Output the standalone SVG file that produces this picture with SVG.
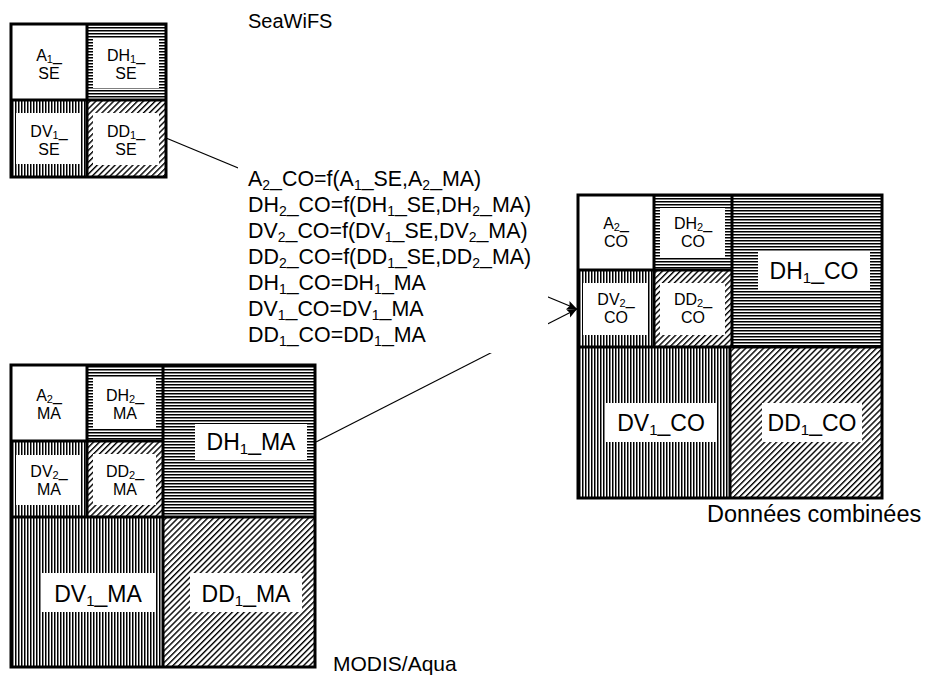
<svg xmlns="http://www.w3.org/2000/svg" width="929" height="677" viewBox="0 0 929 677">
<style>
.t{font-family:"Liberation Sans",Arial,sans-serif;fill:#000}
.sm{font-size:16px;text-anchor:middle}
.big{font-size:23px;text-anchor:middle}
.eq{font-size:21.4px}
.bd{fill:none;stroke:#000;stroke-width:3}
.dv{stroke:#000;stroke-width:3}
.wh{fill:#fff}
.cn{stroke:#000;stroke-width:1.2;fill:none}
</style>
<defs>
<pattern id="ph" patternUnits="userSpaceOnUse" width="6" height="3"><rect x="0" y="0" width="6" height="1.5" fill="#000"/></pattern>
<pattern id="pv" patternUnits="userSpaceOnUse" width="3" height="6"><rect x="0" y="0" width="1.5" height="6" fill="#000"/></pattern>
<pattern id="pd" patternUnits="userSpaceOnUse" width="4.2" height="10" patternTransform="rotate(45)"><rect x="0" y="0" width="1.4" height="10" fill="#000"/></pattern>
<marker id="ar" markerWidth="10" markerHeight="10" refX="10" refY="5" orient="auto" markerUnits="userSpaceOnUse"><path d="M0,0.5 L10,5 L0,9.5 L2,5 Z" fill="#000"/></marker>
</defs>
<rect width="929" height="677" fill="#fff"/>

<g id="connectors">
<line class="cn" x1="166" y1="138" x2="577" y2="309" marker-end="url(#ar)"/>
<line class="cn" x1="316" y1="442" x2="577" y2="309" marker-end="url(#ar)"/>
</g>

<g id="equations">
<rect x="238" y="158" width="310" height="195" fill="#fff"/>
<text class="t eq" x="248" y="186">A<tspan font-size="14" dy="4">2</tspan><tspan dy="-4">_CO=f(A</tspan><tspan font-size="14" dy="4">1</tspan><tspan dy="-4">_SE,A</tspan><tspan font-size="14" dy="4">2</tspan><tspan dy="-4">_MA)</tspan></text>
<text class="t eq" x="248" y="212">DH<tspan font-size="14" dy="4">2</tspan><tspan dy="-4">_CO=f(DH</tspan><tspan font-size="14" dy="4">1</tspan><tspan dy="-4">_SE,DH</tspan><tspan font-size="14" dy="4">2</tspan><tspan dy="-4">_MA)</tspan></text>
<text class="t eq" x="248" y="238">DV<tspan font-size="14" dy="4">2</tspan><tspan dy="-4">_CO=f(DV</tspan><tspan font-size="14" dy="4">1</tspan><tspan dy="-4">_SE,DV</tspan><tspan font-size="14" dy="4">2</tspan><tspan dy="-4">_MA)</tspan></text>
<text class="t eq" x="248" y="264">DD<tspan font-size="14" dy="4">2</tspan><tspan dy="-4">_CO=f(DD</tspan><tspan font-size="14" dy="4">1</tspan><tspan dy="-4">_SE,DD</tspan><tspan font-size="14" dy="4">2</tspan><tspan dy="-4">_MA)</tspan></text>
<text class="t eq" x="248" y="290">DH<tspan font-size="14" dy="4">1</tspan><tspan dy="-4">_CO=DH</tspan><tspan font-size="14" dy="4">1</tspan><tspan dy="-4">_MA</tspan></text>
<text class="t eq" x="248" y="316">DV<tspan font-size="14" dy="4">1</tspan><tspan dy="-4">_CO=DV</tspan><tspan font-size="14" dy="4">1</tspan><tspan dy="-4">_MA</tspan></text>
<text class="t eq" x="248" y="342">DD<tspan font-size="14" dy="4">1</tspan><tspan dy="-4">_CO=DD</tspan><tspan font-size="14" dy="4">1</tspan><tspan dy="-4">_MA</tspan></text>
</g>

<g id="seawifs">
<text class="t" font-size="20" x="248" y="28">SeaWiFS</text>
<rect x="11" y="24" width="76" height="76" class="wh"/>
<rect x="87" y="24" width="79" height="76" fill="url(#ph)"/>
<rect x="93" y="38" width="66" height="50" class="wh"/>
<rect x="11" y="100" width="76" height="77" fill="url(#pv)"/>
<rect x="16" y="113" width="64" height="51" class="wh"/>
<rect x="87" y="100" width="79" height="77" fill="url(#pd)"/>
<rect x="93" y="113" width="66" height="52" class="wh"/>
<rect x="11" y="24" width="155" height="153" class="bd"/>
<line class="dv" x1="87" y1="24" x2="87" y2="177"/>
<line class="dv" x1="11" y1="100" x2="166" y2="100"/>
<text class="t sm" x="49" y="61">A<tspan font-size="11" dy="2">1</tspan><tspan dy="-2">_</tspan></text>
<text class="t sm" x="49" y="79">SE</text>
<text class="t sm" x="126" y="61">DH<tspan font-size="11" dy="2">1</tspan><tspan dy="-2">_</tspan></text>
<text class="t sm" x="126" y="79">SE</text>
<text class="t sm" x="49" y="137">DV<tspan font-size="11" dy="2">1</tspan><tspan dy="-2">_</tspan></text>
<text class="t sm" x="49" y="155">SE</text>
<text class="t sm" x="126" y="137">DD<tspan font-size="11" dy="2">1</tspan><tspan dy="-2">_</tspan></text>
<text class="t sm" x="126" y="155">SE</text>
</g>

<g id="modis">
<text class="t" font-size="21" x="333" y="671">MODIS/Aqua</text>
<rect x="11" y="365" width="76" height="76" class="wh"/>
<rect x="87" y="365" width="76" height="76" fill="url(#ph)"/>
<rect x="93" y="378" width="63" height="50" class="wh"/>
<rect x="11" y="441" width="76" height="76" fill="url(#pv)"/>
<rect x="16" y="455" width="64" height="50" class="wh"/>
<rect x="87" y="441" width="76" height="76" fill="url(#pd)"/>
<rect x="93" y="454" width="63" height="51" class="wh"/>
<rect x="163" y="365" width="152" height="152" fill="url(#ph)"/>
<rect x="11" y="517" width="152" height="150" fill="url(#pv)"/>
<rect x="163" y="517" width="152" height="150" fill="url(#pd)"/>
<rect x="11" y="365" width="304" height="302" class="bd"/>
<line class="dv" x1="87" y1="365" x2="87" y2="517"/>
<line class="dv" x1="11" y1="441" x2="163" y2="441"/>
<line class="dv" x1="163" y1="365" x2="163" y2="667"/>
<line class="dv" x1="11" y1="517" x2="315" y2="517"/>
<text class="t sm" x="49" y="401">A<tspan font-size="11" dy="2">2</tspan><tspan dy="-2">_</tspan></text>
<text class="t sm" x="49" y="419">MA</text>
<text class="t sm" x="125" y="401">DH<tspan font-size="11" dy="2">2</tspan><tspan dy="-2">_</tspan></text>
<text class="t sm" x="125" y="419">MA</text>
<text class="t sm" x="49" y="477">DV<tspan font-size="11" dy="2">2</tspan><tspan dy="-2">_</tspan></text>
<text class="t sm" x="49" y="495">MA</text>
<text class="t sm" x="125" y="477">DD<tspan font-size="11" dy="2">2</tspan><tspan dy="-2">_</tspan></text>
<text class="t sm" x="125" y="495">MA</text>
<rect x="195" y="424" width="112" height="36" class="wh"/>
<text class="t big" x="251" y="450">DH<tspan font-size="15" dy="4">1</tspan><tspan dy="-4">_MA</tspan></text>
<rect x="42" y="573" width="113" height="39" class="wh"/>
<text class="t big" x="98" y="602">DV<tspan font-size="15" dy="4">1</tspan><tspan dy="-4">_MA</tspan></text>
<rect x="190" y="573" width="112" height="39" class="wh"/>
<text class="t big" x="246" y="602">DD<tspan font-size="15" dy="4">1</tspan><tspan dy="-4">_MA</tspan></text>
</g>

<g id="combined">
<text class="t" font-size="23.5" x="707" y="522">Données combinées</text>
<rect x="578" y="195" width="76" height="75" class="wh"/>
<rect x="654" y="195" width="78" height="75" fill="url(#ph)"/>
<rect x="660" y="208" width="65" height="50" class="wh"/>
<rect x="578" y="270" width="76" height="77" fill="url(#pv)"/>
<rect x="583" y="283" width="64" height="52" class="wh"/>
<rect x="654" y="270" width="78" height="77" fill="url(#pd)"/>
<rect x="660" y="283" width="65" height="52" class="wh"/>
<rect x="732" y="195" width="150" height="152" fill="url(#ph)"/>
<rect x="578" y="347" width="152" height="151" fill="url(#pv)"/>
<rect x="730" y="347" width="152" height="151" fill="url(#pd)"/>
<rect x="578" y="195" width="304" height="303" class="bd"/>
<line class="dv" x1="654" y1="195" x2="654" y2="347"/>
<line class="dv" x1="578" y1="270" x2="732" y2="270"/>
<line class="dv" x1="732" y1="195" x2="732" y2="347"/>
<line class="dv" x1="578" y1="347" x2="882" y2="347"/>
<line class="dv" x1="730" y1="347" x2="730" y2="498"/>
<text class="t sm" x="616" y="229">A<tspan font-size="11" dy="2">2</tspan><tspan dy="-2">_</tspan></text>
<text class="t sm" x="616" y="247">CO</text>
<text class="t sm" x="693" y="229">DH<tspan font-size="11" dy="2">2</tspan><tspan dy="-2">_</tspan></text>
<text class="t sm" x="693" y="247">CO</text>
<text class="t sm" x="616" y="305">DV<tspan font-size="11" dy="2">2</tspan><tspan dy="-2">_</tspan></text>
<text class="t sm" x="616" y="323">CO</text>
<text class="t sm" x="693" y="305">DD<tspan font-size="11" dy="2">2</tspan><tspan dy="-2">_</tspan></text>
<text class="t sm" x="693" y="323">CO</text>
<rect x="758" y="252" width="112" height="38" class="wh"/>
<text class="t big" x="814" y="279">DH<tspan font-size="15" dy="4">1</tspan><tspan dy="-4">_CO</tspan></text>
<rect x="605" y="403" width="112" height="39" class="wh"/>
<text class="t big" x="661" y="431">DV<tspan font-size="15" dy="4">1</tspan><tspan dy="-4">_CO</tspan></text>
<rect x="762" y="403" width="100" height="39" class="wh"/>
<text class="t big" x="812" y="431">DD<tspan font-size="15" dy="4">1</tspan><tspan dy="-4">_CO</tspan></text>
</g>
</svg>
